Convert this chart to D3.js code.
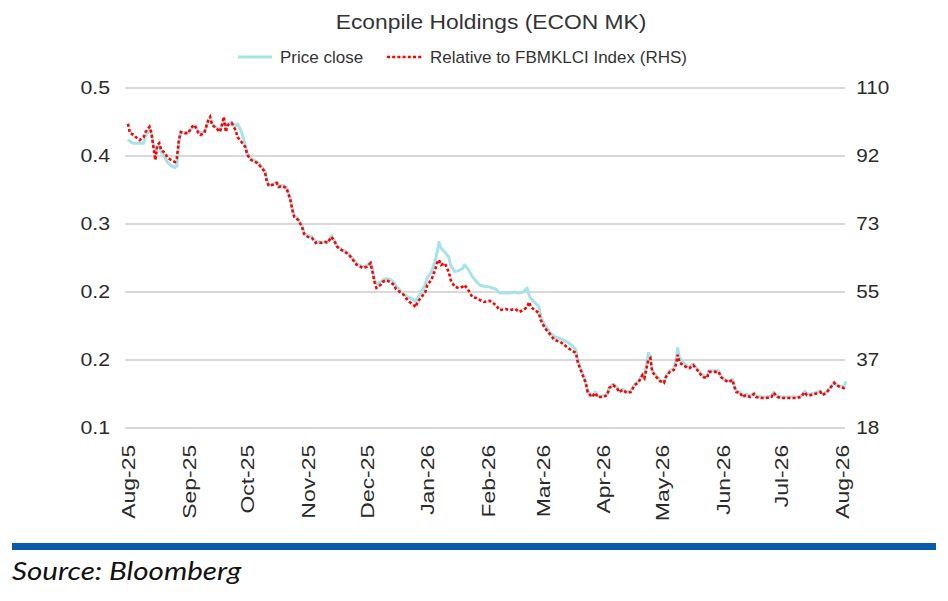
<!DOCTYPE html>
<html><head><meta charset="utf-8">
<script src="https://cdn.jsdelivr.net/npm/d3@7/dist/d3.min.js"></script>
<style>body{margin:0;background:#fff}svg{display:block}</style>
</head><body>
<svg id="c" width="948" height="601"></svg>
<script>
const dates = ["2025-08-01","2025-08-02","2025-08-04","2025-08-05","2025-08-07","2025-08-09","2025-08-10","2025-08-12","2025-08-13","2025-08-14","2025-08-15","2025-08-16","2025-08-17","2025-08-18","2025-08-20","2025-08-21","2025-08-23","2025-08-25","2025-08-26","2025-08-27","2025-08-28","2025-08-30",
"2025-09-01","2025-09-02","2025-09-04","2025-09-06","2025-09-07","2025-09-09","2025-09-11","2025-09-12","2025-09-13","2025-09-15","2025-09-17","2025-09-18","2025-09-19","2025-09-20","2025-09-21","2025-09-23","2025-09-25","2025-09-26","2025-09-28","2025-09-30",
"2025-10-01","2025-10-03","2025-10-05","2025-10-06","2025-10-08","2025-10-10","2025-10-11","2025-10-12","2025-10-14","2025-10-16","2025-10-17","2025-10-19","2025-10-21","2025-10-23","2025-10-24","2025-10-25","2025-10-27","2025-10-29","2025-10-30",
"2025-11-01","2025-11-03","2025-11-05","2025-11-06","2025-11-08","2025-11-10","2025-11-11","2025-11-13","2025-11-15","2025-11-16","2025-11-18","2025-11-20","2025-11-22","2025-11-24","2025-11-26","2025-11-28","2025-11-29",
"2025-12-01","2025-12-03","2025-12-04","2025-12-05","2025-12-06","2025-12-08","2025-12-09","2025-12-11","2025-12-13","2025-12-15","2025-12-16","2025-12-18","2025-12-20","2025-12-21","2025-12-23","2025-12-25","2025-12-26","2025-12-27","2025-12-29","2025-12-31",
"2026-01-01","2026-01-03","2026-01-05","2026-01-06","2026-01-07","2026-01-08","2026-01-10","2026-01-12","2026-01-13","2026-01-15","2026-01-17","2026-01-19","2026-01-20","2026-01-22","2026-01-24","2026-01-26","2026-01-28","2026-01-30",
"2026-02-02","2026-02-05","2026-02-07","2026-02-10","2026-02-12","2026-02-15","2026-02-17","2026-02-19","2026-02-21","2026-02-22","2026-02-23","2026-02-25","2026-02-27","2026-02-28",
"2026-03-02","2026-03-05","2026-03-07","2026-03-10","2026-03-12","2026-03-14","2026-03-17","2026-03-18","2026-03-19","2026-03-21","2026-03-23","2026-03-24","2026-03-26","2026-03-28","2026-03-29",
"2026-04-01","2026-04-03","2026-04-04","2026-04-06","2026-04-08","2026-04-09","2026-04-11","2026-04-13","2026-04-15","2026-04-17","2026-04-19","2026-04-21","2026-04-22","2026-04-24","2026-04-25","2026-04-26","2026-04-28","2026-04-30",
"2026-05-02","2026-05-03","2026-05-05","2026-05-07","2026-05-08","2026-05-09","2026-05-10","2026-05-12","2026-05-14","2026-05-15","2026-05-17","2026-05-19","2026-05-20","2026-05-22","2026-05-24","2026-05-25","2026-05-28","2026-05-30","2026-05-31",
"2026-06-02","2026-06-04","2026-06-06","2026-06-07","2026-06-08","2026-06-10","2026-06-11","2026-06-13","2026-06-15","2026-06-17","2026-06-18","2026-06-21","2026-06-23","2026-06-26","2026-06-27","2026-06-29",
"2026-07-01","2026-07-04","2026-07-06","2026-07-09","2026-07-11","2026-07-13","2026-07-14","2026-07-16","2026-07-18","2026-07-21","2026-07-22","2026-07-24","2026-07-26","2026-07-28","2026-07-29","2026-07-31",
"2026-08-02","2026-08-03"];

const priceClose = [0.397,0.395,0.393,0.393,0.393,0.393,0.401,0.407,0.403,0.391,0.384,0.390,0.391,0.384,0.378,0.374,0.370,0.368,0.370,0.393,0.404,0.404,
0.404,0.407,0.411,0.406,0.404,0.405,0.415,0.417,0.413,0.410,0.407,0.411,0.417,0.409,0.413,0.415,0.411,0.413,0.405,0.391,
0.382,0.377,0.375,0.374,0.370,0.365,0.355,0.350,0.351,0.353,0.349,0.350,0.348,0.337,0.326,0.319,0.315,0.308,0.301,
0.298,0.297,0.292,0.292,0.291,0.292,0.291,0.298,0.291,0.287,0.284,0.282,0.279,0.274,0.269,0.267,0.266,
0.267,0.271,0.263,0.253,0.248,0.250,0.252,0.254,0.253,0.250,0.246,0.242,0.238,0.236,0.234,0.232,0.230,0.234,0.240,0.248,
0.255,0.260,0.271,0.281,0.291,0.285,0.281,0.276,0.267,0.261,0.262,0.264,0.268,0.263,0.256,0.251,0.247,0.246,
0.245,0.243,0.239,0.239,0.239,0.240,0.239,0.240,0.244,0.237,0.233,0.229,0.225,0.215,
0.206,0.198,0.194,0.192,0.190,0.188,0.183,0.180,0.170,0.158,0.147,0.138,0.133,0.137,0.133,
0.133,0.135,0.142,0.145,0.142,0.138,0.140,0.137,0.138,0.145,0.148,0.156,0.153,0.177,0.174,0.159,0.154,0.149,
0.147,0.154,0.159,0.161,0.168,0.182,0.172,0.167,0.163,0.163,0.166,0.161,0.158,0.154,0.153,0.159,0.159,0.159,0.154,
0.150,0.148,0.150,0.143,0.138,0.137,0.133,0.135,0.133,0.136,0.133,0.132,0.132,0.133,0.137,0.133,
0.132,0.132,0.132,0.132,0.133,0.138,0.135,0.135,0.136,0.138,0.135,0.137,0.142,0.147,0.145,0.143,
0.143,0.148];

const relativeIndex = [100.3,97.8,97.3,96.7,95.9,96.7,98.1,99.5,97.8,94.0,90.5,94.6,95.1,93.2,92.4,91.3,90.5,90.0,91.1,95.9,98.1,97.8,
97.8,99.2,100.0,97.8,97.3,97.8,101.3,102.2,100.0,99.2,98.1,100.0,102.2,98.1,100.0,100.5,98.6,96.7,95.4,94.0,
91.9,90.5,90.0,89.7,88.6,87.3,84.6,83.5,83.8,84.3,83.2,83.5,82.9,79.7,77.0,75.1,74.3,72.4,70.5,
69.7,69.4,68.1,68.3,68.1,68.3,68.1,69.7,68.1,67.0,66.2,65.6,64.8,63.5,62.1,61.6,61.3,
61.6,62.6,60.2,57.5,55.9,56.7,57.5,58.0,57.5,56.7,55.6,54.8,54.0,53.2,52.1,51.3,50.7,52.1,53.4,54.8,
56.7,58.0,60.8,62.6,63.5,62.1,62.6,60.2,58.0,56.2,55.9,56.2,56.7,55.3,53.4,53.2,52.6,52.1,
52.4,51.3,49.9,50.2,49.9,50.2,49.4,49.9,50.7,52.1,50.7,49.9,49.1,47.2,
45.1,43.2,41.8,41.3,40.5,39.6,38.6,38.3,35.6,32.9,30.2,27.7,26.4,27.5,26.4,
26.4,26.9,28.8,29.6,28.8,27.7,28.3,27.5,27.7,29.6,30.4,32.3,31.5,36.4,36.9,33.2,31.8,30.7,
30.2,31.8,33.2,33.7,35.0,37.8,35.6,35.0,34.2,34.2,35.0,33.7,32.9,31.8,31.5,33.2,33.2,33.2,31.8,
31.0,30.4,31.0,29.1,27.7,27.5,26.4,26.9,26.4,27.2,26.4,26.1,26.1,26.4,27.5,26.4,
26.1,26.1,26.1,26.1,26.4,27.7,26.9,26.9,27.2,27.7,26.9,27.5,28.8,30.2,29.6,29.1,
28.8,29.1];

const monthTicks = ["2025-08-01","2025-09-01","2025-10-01","2025-11-01","2025-12-01","2026-01-01","2026-02-01","2026-03-01","2026-04-01","2026-05-01","2026-06-01","2026-07-01","2026-08-01"];
const monthLabels = ["Aug-25","Sep-25","Oct-25","Nov-25","Dec-25","Jan-26","Feb-26","Mar-26","Apr-26","May-26","Jun-26","Jul-26","Aug-26"];
const leftTicks = [0.10,0.17,0.24,0.31,0.38,0.45];
const leftLabels = ["0.1","0.2","0.2","0.3","0.4","0.5"];
const rightTicks = [18,36.4,54.8,73.2,91.6,110];
const rightLabels = ["18","37","55","73","92","110"];

const title = "Econpile Holdings (ECON MK)";
const seriesNames = ["Price close","Relative to FBMKLCI Index (RHS)"];
const source = "Source: Bloomberg";

const parse = d3.timeParse("%Y-%m-%d");
const svg = d3.select("#c");
const font = "'Liberation Sans', Arial, sans-serif";
const L = 125, R = 845, T = 88, B = 428;
const cyan = "#a6e3e6", red = "#ff0000", txt = "#2b2b2b";

const x = d3.scaleTime().domain([parse("2025-08-01"), parse("2026-08-01")]).range([128, 842]);
const yL = d3.scaleLinear().domain([0.10, 0.45]).range([B, T]);
const yR = d3.scaleLinear().domain([18, 110]).range([B, T]);

// gridlines
svg.append("g").selectAll("line").data(leftTicks).join("line")
  .attr("x1", L).attr("x2", R)
  .attr("y1", d => yL(d)).attr("y2", d => yL(d))
  .attr("stroke", "#d9d9d9").attr("stroke-width", 2);

// left axis
const axL = svg.append("g").attr("transform", `translate(${L},0)`)
  .call(d3.axisLeft(yL).tickValues(leftTicks).tickSize(0).tickPadding(13).tickFormat((d,i) => leftLabels[i]));
axL.select(".domain").remove();
axL.selectAll("text").attr("font-family", font).attr("font-size", 18.5).attr("fill", txt)
  .attr("transform", "scale(1.15,1)");

// right axis
const axR = svg.append("g").attr("transform", `translate(${R},0)`)
  .call(d3.axisRight(yR).tickValues(rightTicks).tickSize(0).tickPadding(10).tickFormat((d,i) => rightLabels[i]));
axR.select(".domain").remove();
axR.selectAll("text").attr("font-family", font).attr("font-size", 18.5).attr("fill", txt)
  .attr("transform", "scale(1.12,1)");

// bottom axis
const axB = svg.append("g").attr("transform", `translate(0,${B})`)
  .call(d3.axisBottom(x).tickValues(monthTicks.map(parse)).tickSize(0).tickFormat((d,i) => monthLabels[i]));
axB.select(".domain").remove();
axB.selectAll("text")
  .attr("font-family", font).attr("font-size", 18.5).attr("fill", txt)
  .attr("text-anchor", "end").attr("transform", "rotate(-90) scale(1.24,1)")
  .attr("x", -13.5).attr("y", 0).attr("dy", "0.35em");

const pts = dates.map((d,i) => ({date: parse(d), p: priceClose[i], r: relativeIndex[i]}));

svg.append("path").datum(pts)
  .attr("fill", "none").attr("stroke", cyan).attr("stroke-width", 3).attr("stroke-linejoin", "round")
  .attr("d", d3.line().x(d => x(d.date)).y(d => yL(d.p)));

svg.append("path").datum(pts)
  .attr("fill", "none").attr("stroke", red).attr("stroke-width", 2.6).attr("stroke-dasharray", "3 2.2")
  .attr("d", d3.line().x(d => x(d.date)).y(d => yR(d.r)));

// title
svg.append("text").attr("transform", "translate(491,29) scale(1.17,1)").attr("text-anchor", "middle")
  .attr("font-family", font).attr("font-size", 19.5).attr("fill", "#333").text(title);

// legend
const lg = svg.append("g");
lg.append("line").attr("x1", 238).attr("x2", 272).attr("y1", 57).attr("y2", 57)
  .attr("stroke", cyan).attr("stroke-width", 3);
lg.append("text").attr("x", 280).attr("y", 63).attr("font-family", font).attr("font-size", 17).attr("fill", "#333").text(seriesNames[0]);
lg.append("line").attr("x1", 387).attr("x2", 422).attr("y1", 57).attr("y2", 57)
  .attr("stroke", red).attr("stroke-width", 2.6).attr("stroke-dasharray", "3 2.2");
lg.append("text").attr("x", 430).attr("y", 63).attr("font-family", font).attr("font-size", 17).attr("fill", "#333").text(seriesNames[1]);

// footer
svg.append("rect").attr("x", 12).attr("y", 543).attr("width", 924).attr("height", 7).attr("fill", "#0b5aa9");
svg.append("text").attr("transform", "translate(12,580) scale(1.16,1)").attr("font-family", "Lato, sans-serif").attr("font-style", "italic")
  .attr("font-size", 25.5).attr("fill", "#111").text(source);
</script>
</body></html>
